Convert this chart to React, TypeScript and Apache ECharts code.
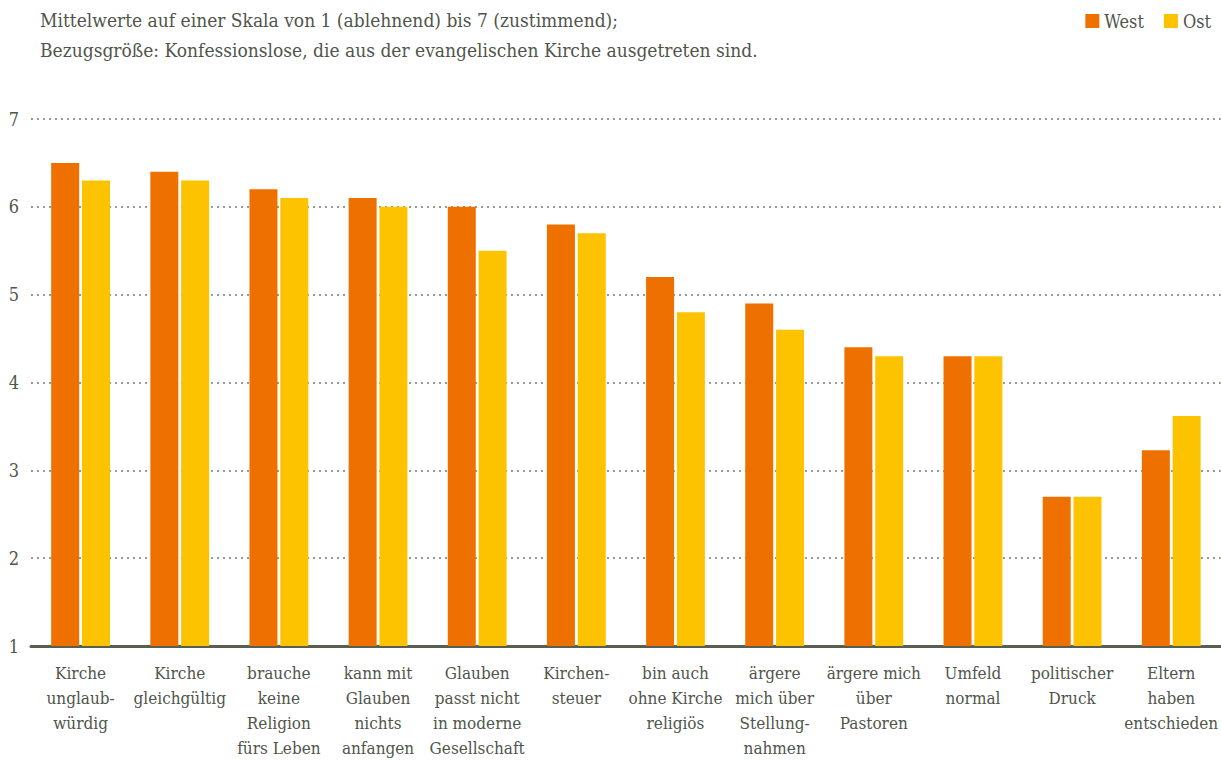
import React, { useEffect, useRef } from "react";
import * as echarts from "echarts";

const categories = [
  "Kirche\nunglaub-\nwürdig",
  "Kirche\ngleichgültig",
  "brauche\nkeine\nReligion\nfürs Leben",
  "kann mit\nGlauben\nnichts\nanfangen",
  "Glauben\npasst nicht\nin moderne\nGesellschaft",
  "Kirchen-\nsteuer",
  "bin auch\nohne Kirche\nreligiös",
  "ärgere\nmich über\nStellung-\nnahmen",
  "ärgere mich\nüber\nPastoren",
  "Umfeld\nnormal",
  "politischer\nDruck",
  "Eltern\nhaben\nentschieden",
];
const west = [6.5, 6.4, 6.2, 6.1, 6.0, 5.8, 5.2, 4.9, 4.4, 4.3, 2.7, 3.23];
const ost = [6.3, 6.3, 6.1, 6.0, 5.5, 5.7, 4.8, 4.6, 4.3, 4.3, 2.7, 3.62];
const titleLines = [
  "Mittelwerte auf einer Skala von 1 (ablehnend) bis 7 (zustimmend);",
  "Bezugsgröße: Konfessionslose, die aus der evangelischen Kirche ausgetreten sind.",
];

const FONT = "'DejaVu Serif Condensed', 'Liberation Serif', serif";
const TEXT = "#50554b";

export default function App() {
  const ref = useRef<HTMLDivElement>(null);
  useEffect(() => {
    document.body.style.margin = "0";
    if (!ref.current) return;
    const chart = echarts.init(ref.current, undefined, { renderer: "svg" });
    chart.setOption({
      animation: false,
      textStyle: { fontFamily: FONT, color: TEXT },
      title: {
        text: titleLines.join("\n"),
        left: 40,
        top: 5,
        padding: 0,
        textStyle: {
          fontFamily: FONT,
          fontSize: 19,
          fontWeight: "normal",
          color: TEXT,
          lineHeight: 30,
        },
      },
      legend: {
        right: 10,
        top: 12,
        icon: "rect",
        itemWidth: 14,
        itemHeight: 14,
        itemGap: 20,
        padding: 0,
        textStyle: { fontFamily: FONT, fontSize: 18, color: TEXT },
        data: ["West", "Ost"],
      },
      grid: { left: 31, top: 119, width: 1195, height: 531 },
      xAxis: {
        type: "category",
        data: categories,
        axisTick: { show: false },
        axisLine: { lineStyle: { color: "#585e50", width: 3 } },
        axisLabel: {
          interval: 0,
          margin: 14,
          fontFamily: FONT,
          fontSize: 17,
          lineHeight: 25,
          color: TEXT,
          align: "center",
        },
      },
      yAxis: {
        type: "value",
        min: 1,
        max: 7,
        interval: 1,
        axisLine: { show: false },
        axisTick: { show: false },
        axisLabel: { fontFamily: FONT, fontSize: 18, color: TEXT, margin: 12 },
        splitLine: {
          lineStyle: { color: "#9a9a95", width: 2, type: [2, 4] },
        },
      },
      series: [
        {
          name: "West",
          type: "bar",
          data: west,
          barWidth: 28,
          barGap: "10%",
          itemStyle: { color: "#ee7100" },
        },
        {
          name: "Ost",
          type: "bar",
          data: ost,
          barWidth: 28,
          itemStyle: { color: "#fdc300" },
        },
      ],
    });
    return () => chart.dispose();
  }, []);
  return <div ref={ref} style={{ width: 1221, height: 760 }} />;
}
